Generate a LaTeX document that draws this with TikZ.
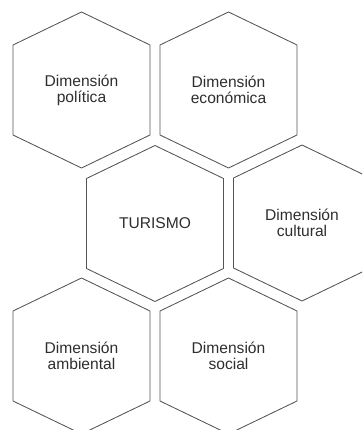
\documentclass[tikz,border=0pt]{standalone}
\usepackage{fontspec}
\setmainfont{Liberation Sans}
\definecolor{cline}{rgb}{0.33, 0.33, 0.33}
\definecolor{ctext}{rgb}{0.18, 0.18, 0.18}

\tikzset{
  dim/.style={align=center, text=ctext, font=\fontsize{15.6}{16}\selectfont},
  hexline/.style={draw=cline, line width=0.85pt, line join=miter}
}

% hexagon round a named centre node
\newcommand{\hexround}[1]{%
  \draw [hexline] (#1.center) ++(0, 78) -- ++(-68.5, -33) -- ++(0, -90)
    -- ++(68.5, -33) -- ++(68.5, 33) -- ++(0, 90) -- cycle;}

\begin{document}
\begin{tikzpicture}[x=1pt, y=1pt]

% page frame
\useasboundingbox (0, 0) rectangle (362, 430);
\clip (0, 0) rectangle (362, 430);

% labels
\node [dim] (pol) at (81.5, 340) {Dimensión\\política};
\node [dim] (eco) at (228.5, 340) {Dimensión\\económica};
\node [dim] (tur) at (155, 206.5) {TURISMO};
\node [dim] (cul) at (302, 207) {Dimensión\\cultural};
\node [dim] (amb) at (81.5, 74) {Dimensión\\ambiental};
\node [dim] (soc) at (228.5, 74) {Dimensión\\social};

% hexagons
\foreach \n in {pol, eco, tur, cul, amb, soc} {
    \hexround{\n}
}

\end{tikzpicture}
\end{document}
